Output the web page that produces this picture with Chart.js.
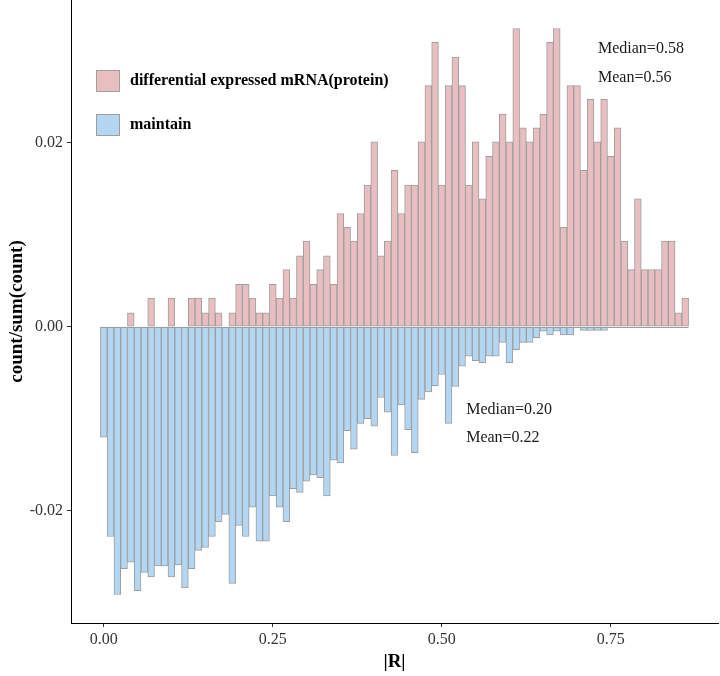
<!DOCTYPE html>
<html>
<head>
<meta charset="utf-8">
<script src="https://cdn.jsdelivr.net/npm/chart.js@4.4.1/dist/chart.umd.min.js"></script>
<style>
  html, body { margin: 0; padding: 0; background: #fff; }
</style>
</head>
<body>
<canvas id="histChart" width="720" height="676"></canvas>
<script>
// centres des classes de |R| (largeur de classe 0.01)
const binCenters = [
  0.00, 0.01, 0.02, 0.03, 0.04, 0.05, 0.06, 0.07, 0.08, 0.09,
  0.10, 0.11, 0.12, 0.13, 0.14, 0.15, 0.16, 0.17, 0.18, 0.19,
  0.20, 0.21, 0.22, 0.23, 0.24, 0.25, 0.26, 0.27, 0.28, 0.29,
  0.30, 0.31, 0.32, 0.33, 0.34, 0.35, 0.36, 0.37, 0.38, 0.39,
  0.40, 0.41, 0.42, 0.43, 0.44, 0.45, 0.46, 0.47, 0.48, 0.49,
  0.50, 0.51, 0.52, 0.53, 0.54, 0.55, 0.56, 0.57, 0.58, 0.59,
  0.60, 0.61, 0.62, 0.63, 0.64, 0.65, 0.66, 0.67, 0.68, 0.69,
  0.70, 0.71, 0.72, 0.73, 0.74, 0.75, 0.76, 0.77, 0.78, 0.79,
  0.80, 0.81, 0.82, 0.83, 0.84, 0.85, 0.86
];

// count/sum(count) des ARNm différentiellement exprimés (vers le haut)
const diffValues = [
  0, 0, 0, 0, 0.0015, 0, 0, 0.0031, 0, 0,
  0.0031, 0, 0, 0.0031, 0.0031, 0.0015, 0.0031, 0.0015, 0, 0.0015,
  0.0046, 0.0046, 0.0031, 0.0015, 0.0015, 0.0046, 0.0031, 0.0062, 0.0031, 0.0077,
  0.0093, 0.0046, 0.0062, 0.0077, 0.0046, 0.0123, 0.0108, 0.0093, 0.0123, 0.0154,
  0.0201, 0.0077, 0.0093, 0.0170, 0.0123, 0.0154, 0.0154, 0.0201, 0.0262, 0.0309,
  0.0154, 0.0262, 0.0293, 0.0262, 0.0154, 0.0201, 0.0139, 0.0185, 0.0201, 0.0231,
  0.0201, 0.0324, 0.0216, 0.0201, 0.0216, 0.0231, 0.0309, 0.0324, 0.0108, 0.0262,
  0.0262, 0.0170, 0.0247, 0.0201, 0.0247, 0.0185, 0.0216, 0.0093, 0.0062, 0.0139,
  0.0062, 0.0062, 0.0062, 0.0093, 0.0093, 0.0015, 0.0031
];

// count/sum(count) des ARNm "maintain" (tracés vers le bas)
const maintainValues = [
  -0.0120, -0.0228, -0.0291, -0.0263, -0.0256, -0.0287, -0.0267, -0.0272, -0.0260, -0.0260,
  -0.0272, -0.0259, -0.0284, -0.0263, -0.0243, -0.0240, -0.0228, -0.0212, -0.0204, -0.0279,
  -0.0216, -0.0228, -0.0196, -0.0233, -0.0233, -0.0184, -0.0196, -0.0212, -0.0176, -0.0180,
  -0.0168, -0.0161, -0.0164, -0.0184, -0.0145, -0.0148, -0.0113, -0.0133, -0.0105, -0.0100,
  -0.0108, -0.0077, -0.0093, -0.0140, -0.0085, -0.0112, -0.0137, -0.0079, -0.0071, -0.0064,
  -0.0052, -0.0105, -0.0065, -0.0043, -0.0032, -0.0037, -0.0039, -0.0032, -0.0032, -0.0017,
  -0.0039, -0.0025, -0.0017, -0.0017, -0.0012, -0.0005, -0.0009, -0.0005, -0.0009, -0.0009,
  0, -0.0004, -0.0004, -0.0004, -0.0004, 0, 0, 0, 0, 0,
  0, 0, 0, 0, 0, 0, 0
];

const seriesNames = ['differential expressed mRNA(protein)', 'maintain'];
const xTicks = [0, 0.25, 0.5, 0.75];
const yTicks = [-0.02, 0, 0.02];

const SERIF = '"Liberation Serif", "Times New Roman", serif';
const RED = '#e8bec1';
const BLUE = '#b3d6f2';
const EDGE = '#9e9e9e';

// lignes, annotations et légende dessinées par-dessus
const overlayPlugin = {
  id: 'overlay',
  afterDatasetsDraw(chart) {
    const { ctx, scales: { x, y } } = chart;
    ctx.save();

    // ligne de base commune aux deux histogrammes
    const y0 = Math.round(y.getPixelForValue(0)) + 0.5;
    ctx.strokeStyle = EDGE;
    ctx.lineWidth = 1;
    ctx.beginPath();
    ctx.moveTo(x.getPixelForValue(binCenters[0] - 0.005), y0);
    ctx.lineTo(x.getPixelForValue(binCenters[binCenters.length - 1] + 0.005), y0);
    ctx.stroke();

    // médianes / moyennes
    ctx.fillStyle = '#1a1a1a';
    ctx.font = '16px ' + SERIF;
    ctx.textBaseline = 'middle';
    ctx.textAlign = 'left';
    ctx.fillText('Median=0.58', x.getPixelForValue(0.731), y.getPixelForValue(0.0302));
    ctx.fillText('Mean=0.56', x.getPixelForValue(0.731), y.getPixelForValue(0.0271));
    ctx.fillText('Median=0.20', x.getPixelForValue(0.536), y.getPixelForValue(-0.0090));
    ctx.fillText('Mean=0.22', x.getPixelForValue(0.536), y.getPixelForValue(-0.0121));

    // légende
    const keys = [[RED, 70], [BLUE, 114]];
    ctx.font = 'bold 16px ' + SERIF;
    keys.forEach(([col, top], i) => {
      ctx.fillStyle = col;
      ctx.fillRect(96, top, 24, 22);
      ctx.strokeStyle = EDGE;
      ctx.strokeRect(96.5, top + 0.5, 23, 21);
      ctx.fillStyle = '#000';
      ctx.fillText(seriesNames[i], 130, top + 11);
    });

    ctx.restore();
  }
};

const barStyle = {
  borderColor: EDGE,
  borderWidth: 1,
  borderSkipped: false,
  grouped: false,
  categoryPercentage: 1,
  barPercentage: 1
};

new Chart(document.getElementById('histChart'), {
  type: 'bar',
  data: {
    datasets: [
      Object.assign({
        label: seriesNames[0],
        data: binCenters.map((c, i) => ({ x: c, y: diffValues[i] })),
        backgroundColor: RED
      }, barStyle),
      Object.assign({
        label: seriesNames[1],
        data: binCenters.map((c, i) => ({ x: c, y: maintainValues[i] })),
        backgroundColor: BLUE
      }, barStyle)
    ]
  },
  options: {
    responsive: false,
    animation: false,
    devicePixelRatio: 1,
    layout: { padding: { top: 0, right: 2, bottom: 0, left: 0 } },
    plugins: { legend: { display: false }, tooltip: { enabled: false } },
    scales: {
      x: {
        type: 'linear',
        min: -0.0485,
        max: 0.9085,
        offset: false,
        afterBuildTicks: s => { s.ticks = xTicks.map(v => ({ value: v })); },
        afterFit: s => { s.height = 53; s.paddingLeft = 0; s.paddingRight = 0; },
        ticks: {
          autoSkip: false,
          maxRotation: 0,
          padding: 3,
          color: '#333',
          font: { family: SERIF, size: 16 },
          callback: v => v.toFixed(2)
        },
        grid: { display: true, offset: false, drawOnChartArea: false, drawTicks: true, tickLength: 4, color: '#333' },
        border: { display: true, color: '#000', width: 1 },
        title: {
          display: true, text: '|R|', color: '#000',
          font: { family: SERIF, size: 19, weight: 'bold' },
          padding: { top: 0, bottom: 3 }
        }
      },
      y: {
        min: -0.0322,
        max: 0.0355,
        afterBuildTicks: s => { s.ticks = yTicks.map(v => ({ value: v })); },
        afterFit: s => { s.width = 71; s.paddingTop = 0; s.paddingBottom = 0; },
        ticks: {
          padding: 4,
          color: '#333',
          font: { family: SERIF, size: 16 },
          callback: v => v.toFixed(2)
        },
        grid: { display: true, drawOnChartArea: false, drawTicks: true, tickLength: 4, color: '#333' },
        border: { display: true, color: '#000', width: 1 },
        title: {
          display: true, text: 'count/sum(count)', color: '#000',
          font: { family: SERIF, size: 19, weight: 'bold' },
          padding: { top: 6, bottom: 0 }
        }
      }
    }
  },
  plugins: [overlayPlugin]
});
</script>
</body>
</html>
